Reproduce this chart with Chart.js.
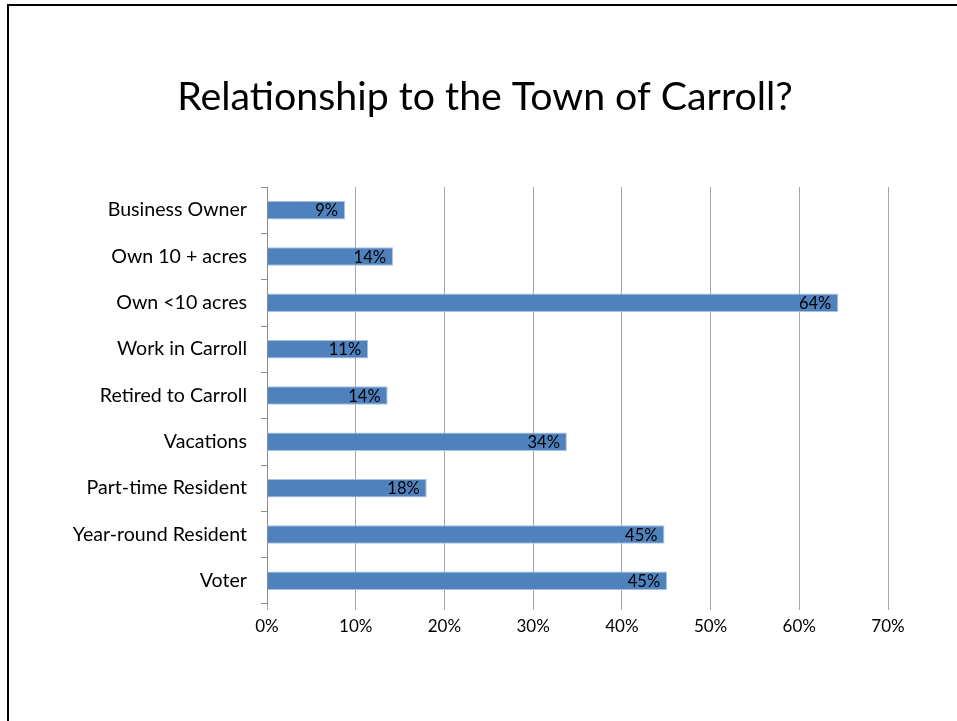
<!DOCTYPE html>
<html>
<head>
<meta charset="utf-8">
<script src="https://cdn.jsdelivr.net/npm/chart.js@4.4.1/dist/chart.umd.min.js"></script>
<style>
  html, body { margin: 0; padding: 0; background: #fff; }
  #wrap { position: relative; width: 957px; height: 721px; overflow: hidden; }
  #frame {
    position: absolute; left: 7px; top: 4px; width: 1000px; height: 800px;
    border-left: 2px solid #000; border-top: 2px solid #000;
  }
  canvas { position: absolute; left: 0; top: 0; }
</style>
</head>
<body>
<div id="wrap">
  <div id="frame"></div>
  <canvas id="relChart" width="957" height="721"></canvas>
</div>
<script>
/* Relationship to the Town of Carroll? — horizontal bar chart */

const chartTitle = 'Relationship to the Town of Carroll?';
const categories = [
  'Business Owner',
  'Own 10 + acres',
  'Own <10 acres',
  'Work in Carroll',
  'Retired to Carroll',
  'Vacations',
  'Part-time Resident',
  'Year-round Resident',
  'Voter'
];
const shares = [8.8, 14.2, 64.4, 11.4, 13.6, 33.8, 18.0, 44.8, 45.1];
const shareLabels = ['9%', '14%', '64%', '11%', '14%', '34%', '18%', '45%', '45%'];
const xTicks = [0, 10, 20, 30, 40, 50, 60, 70];

const FONT = 'Lato, "Open Sans", sans-serif';

/* slide title, centred on the slide rather than the plot */
const slideTitle = {
  id: 'slideTitle',
  afterDraw(chart) {
    const ctx = chart.ctx;
    ctx.save();
    ctx.font = '39.3px ' + FONT;
    ctx.fillStyle = '#000';
    ctx.textAlign = 'center';
    ctx.textBaseline = 'middle';
    ctx.fillText(chartTitle, 485, 97);
    ctx.restore();
  }
};

/* draw the % value just inside the end of each bar */
const barLabels = {
  id: 'barLabels',
  afterDatasetsDraw(chart) {
    const ctx = chart.ctx;
    const meta = chart.getDatasetMeta(0);
    ctx.save();
    ctx.font = '16.5px ' + FONT;
    ctx.fillStyle = '#000';
    ctx.textAlign = 'right';
    ctx.textBaseline = 'middle';
    meta.data.forEach((bar, i) => {
      ctx.fillText(shareLabels[i], bar.x - 7, bar.y + 1);
    });
    ctx.restore();
  }
};

const ctx = document.getElementById('relChart').getContext('2d');

new Chart(ctx, {
  type: 'bar',
  data: {
    labels: categories,
    datasets: [{
      data: shares,
      backgroundColor: '#4F81BD',
      borderColor: '#A9C1E0',
      borderWidth: 1,
      barPercentage: 0.4,
      categoryPercentage: 1
    }]
  },
  options: {
    indexAxis: 'y',
    responsive: false,
    animation: false,
    layout: { padding: { left: 0, right: 69, top: 187, bottom: 77 } },
    plugins: {
      legend: { display: false },
      tooltip: { enabled: false },
      title: { display: false }
    },
    scales: {
      x: {
        min: 0,
        max: 70,
        afterBuildTicks: (axis) => { axis.ticks = xTicks.map(v => ({ value: v })); },
        afterFit: (axis) => { axis.height = 40; },
        grid: {
          color: '#a6a6a6',
          lineWidth: 1,
          drawTicks: true,
          tickLength: 6
        },
        border: { display: false },
        ticks: {
          color: '#000',
          padding: 6,
          font: { family: FONT, size: 17 },
          callback: (v) => v + '%'
        }
      },
      y: {
        afterFit: (axis) => { axis.width = 267; },
        grid: {
          offset: true,
          drawOnChartArea: false,
          drawTicks: true,
          tickLength: 6,
          color: '#8c8c8c'
        },
        border: { display: true, color: '#8c8c8c', width: 1 },
        ticks: {
          color: '#000',
          padding: 14,
          font: { family: FONT, size: 19.6 }
        }
      }
    }
  },
  plugins: [barLabels, slideTitle]
});
</script>
</body>
</html>
